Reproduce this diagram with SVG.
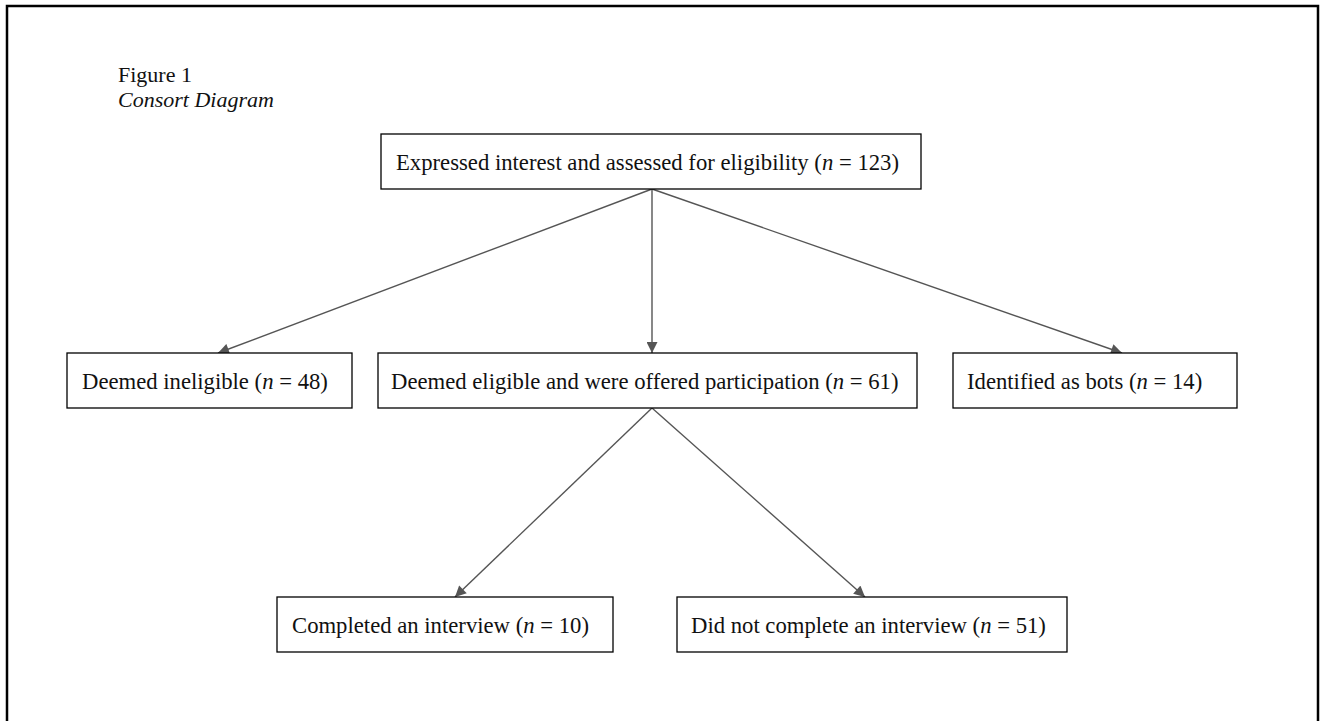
<svg xmlns="http://www.w3.org/2000/svg" width="1320" height="721" viewBox="0 0 1320 721">
<defs>
<style>
.box{fill:#fff;stroke:#000;stroke-width:1.3}
.t{font-family:"Liberation Serif","Times New Roman",serif;font-size:22.7px;fill:#111}
.f{font-family:"Liberation Serif","Times New Roman",serif;font-size:22px;fill:#111}
.c{stroke:#555;stroke-width:1.4;fill:none;marker-end:url(#ah)}
</style>
<marker id="ah" viewBox="0 0 10 10" refX="10" refY="5" markerWidth="12" markerHeight="11" markerUnits="userSpaceOnUse" orient="auto">
<path d="M0,0 L10,5 L0,10 z" fill="#555"/>
</marker>
</defs>
<rect x="0" y="0" width="1320" height="721" fill="#fff"/>
<path d="M7,721 V6 H1318 V721" fill="none" stroke="#000" stroke-width="2.5"/>
<text class="f" x="118" y="82">Figure 1</text>
<text class="f" x="118" y="107" font-style="italic">Consort Diagram</text>
<g id="connectors">
<line class="c" x1="652" y1="189" x2="218" y2="353"/>
<line class="c" x1="652" y1="189" x2="652" y2="353"/>
<line class="c" x1="652" y1="189" x2="1122" y2="353"/>
<line class="c" x1="652" y1="408" x2="455" y2="597"/>
<line class="c" x1="652" y1="408" x2="865" y2="597"/>
</g>
<g id="assessed">
<rect class="box" x="381" y="134" width="540" height="55"/>
<text class="t" x="396" y="170">Expressed interest and assessed for eligibility (<tspan font-style="italic">n</tspan> = 123)</text>
</g>
<g id="ineligible">
<rect class="box" x="67" y="353" width="285" height="55"/>
<text class="t" x="82" y="389">Deemed ineligible (<tspan font-style="italic">n</tspan> = 48)</text>
</g>
<g id="eligible">
<rect class="box" x="378" y="353" width="539" height="55"/>
<text class="t" x="391" y="389">Deemed eligible and were offered participation (<tspan font-style="italic">n</tspan> = 61)</text>
</g>
<g id="bots">
<rect class="box" x="953" y="353" width="284" height="55"/>
<text class="t" x="967" y="389">Identified as bots (<tspan font-style="italic">n</tspan> = 14)</text>
</g>
<g id="completed">
<rect class="box" x="277" y="597" width="336" height="55"/>
<text class="t" x="292" y="633">Completed an interview (<tspan font-style="italic">n</tspan> = 10)</text>
</g>
<g id="notcompleted">
<rect class="box" x="677" y="597" width="390" height="55"/>
<text class="t" x="691" y="633">Did not complete an interview (<tspan font-style="italic">n</tspan> = 51)</text>
</g>
</svg>
